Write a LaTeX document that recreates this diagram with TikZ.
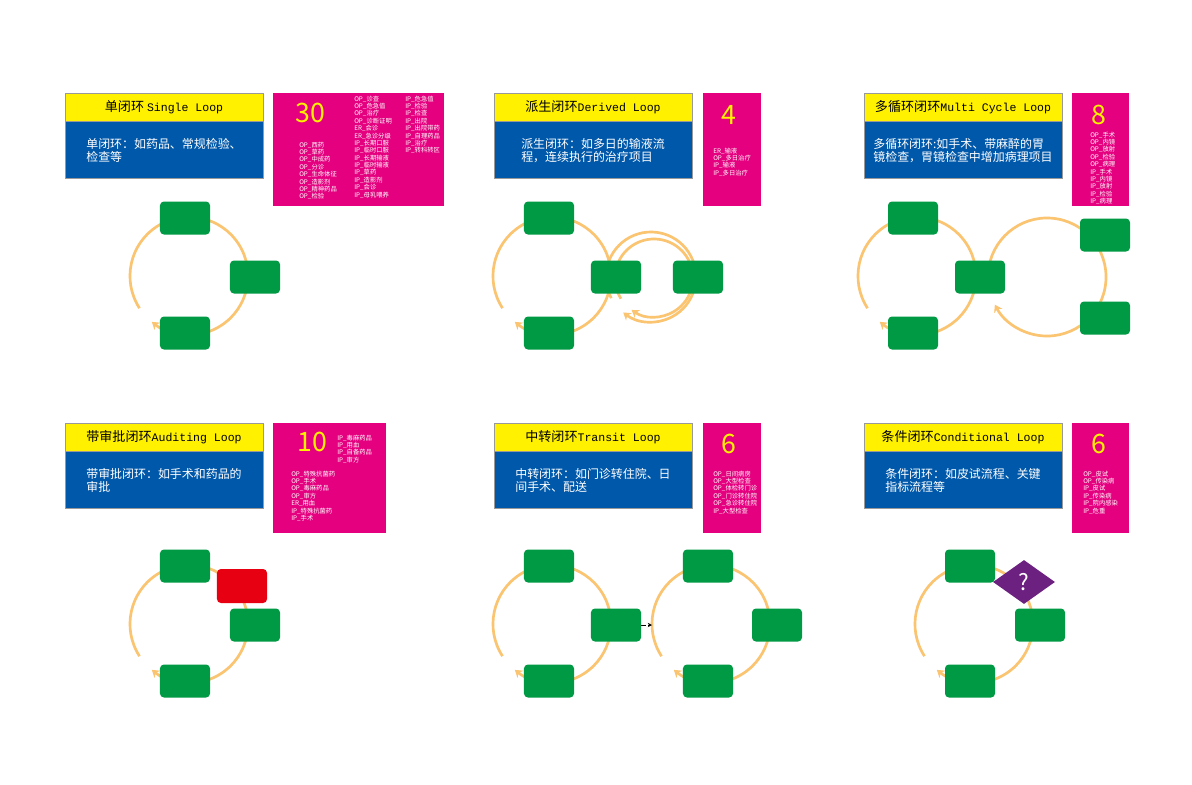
\documentclass[tikz,border=0pt]{standalone}
\usepackage{fontspec}
\setmainfont{Noto Sans CJK SC}
\newfontfamily\latmono{Liberation Mono}
\usepackage{tikz}
\usetikzlibrary{positioning,arrows.meta,shapes.geometric}

\definecolor{ttlyellow}{RGB}{255,241,0}
\definecolor{descblue}{RGB}{0,88,170}
\definecolor{cntmagenta}{RGB}{228,0,127}
\definecolor{stepgreen}{RGB}{0,153,68}
\definecolor{looporange}{RGB}{250,196,112}
\definecolor{rejectred}{RGB}{230,0,18}
\definecolor{condpurple}{RGB}{108,32,128}

\newcommand\lat[1]{{\latmono\fontsize{8.2pt}{10pt}\selectfont #1}}

\tikzset{
  titlebar/.style={fill=ttlyellow, draw=gray!80, line width=0.6pt, minimum width=4.95cm,
    minimum height=0.7cm, inner sep=0pt, font=\fontsize{9.3pt}{11pt}\selectfont},
  descbox/.style={fill=descblue, draw=gray!80, line width=0.6pt, minimum width=4.95cm,
    minimum height=1.425cm, inner sep=0pt, text=white, align=left,
    font=\fontsize{8.5pt}{9.6pt}\selectfont},
  countbox/.style={fill=cntmagenta, inner sep=0pt, anchor=north west},
  countnum/.style={text=ttlyellow, inner sep=0pt, font=\fontsize{19pt}{19pt}\selectfont},
  itemlist/.style={text=white, align=left, anchor=north west, inner sep=0pt,
    font=\fontsize{4.5pt}{5.25pt}\selectfont},
  stepbox/.style={fill=stepgreen, rounded corners=2.8pt, minimum width=1.25cm,
    minimum height=0.825cm, inner sep=0pt},
  looparc/.style={draw=looporange, line width=1.9pt,
    -{Stealth[length=5pt,width=6.5pt,inset=1.5pt]}},
}

\begin{document}
\begin{tikzpicture}[x=0.025cm,y=0.025cm]
\fill[white] (0,0) rectangle (1192,-784);
\useasboundingbox (0,0) rectangle (1192,-784);

% titles and descriptions
\node[titlebar] (ta) at (164,-107) {单闭环 \lat{Single Loop}};
\node[descbox, below=0pt of ta] (da) {单闭环：如药品、常规检验、\\检查等};
\node[titlebar] (tb) at (593,-107) {派生闭环\lat{Derived Loop}};
\node[descbox, below=0pt of tb] (db) {派生闭环：如多日的输液流\\程，连续执行的治疗项目};
\node[titlebar] (tc) at (963,-107) {多循环闭环\lat{Multi Cycle Loop}};
\node[descbox, below=0pt of tc] (dc) {多循环闭环:如手术、带麻醉的胃\\镜检查，胃镜检查中增加病理项目};
\node[titlebar] (td) at (164,-437) {带审批闭环\lat{Auditing Loop}};
\node[descbox, below=0pt of td] (dd) {带审批闭环：如手术和药品的\\审批};
\node[titlebar] (te) at (593,-437) {中转闭环\lat{Transit Loop}};
\node[descbox, below=0pt of te] (de) {中转闭环：如门诊转住院、日\\间手术、配送};
\node[titlebar] (tf) at (963,-437) {条件闭环\lat{Conditional Loop}};
\node[descbox, below=0pt of tf] (df) {条件闭环：如皮试流程、关键\\指标流程等};

% counts
\node[countbox, minimum width=4.275cm, minimum height=2.825cm] (na) at (273,-93) {};
\node[countnum] (ka) at (310,-113) {30};
\node[itemlist] (la1) at (299,-141.5) {OP\_西药\\OP\_草药\\OP\_中成药\\OP\_分诊\\OP\_生命体征\\OP\_造影剂\\OP\_精神药品\\OP\_检验};
\node[itemlist] (la2) at (354,-95.5) {OP\_诊查\\OP\_危急值\\OP\_治疗\\OP\_诊断证明\\ER\_会诊\\ER\_急诊分级\\IP\_长期口服\\IP\_临时口服\\IP\_长期输液\\IP\_临时输液\\IP\_草药\\IP\_造影剂\\IP\_会诊\\IP\_母乳喂养};
\node[itemlist] (la3) at (405,-95.5) {IP\_危急值\\IP\_检验\\IP\_检查\\IP\_出院\\IP\_出院带药\\IP\_自理药品\\IP\_治疗\\IP\_转科转区};

\node[countbox, minimum width=1.45cm, minimum height=2.825cm] (nb) at (703,-93) {};
\node[countnum] (kb) at (729,-115) {4};
\node[itemlist] (lb) at (713,-147.5) {ER\_输液\\OP\_多日治疗\\IP\_输液\\IP\_多日治疗};

\node[countbox, minimum width=1.425cm, minimum height=2.825cm] (nc) at (1072,-93) {};
\node[countnum] (kc) at (1099,-115) {8};
\node[itemlist] (lc) at (1090,-131.5) {OP\_手术\\OP\_内镜\\OP\_放射\\OP\_检验\\OP\_病理\\IP\_手术\\IP\_内镜\\IP\_放射\\IP\_检验\\IP\_病理};

\node[countbox, minimum width=2.825cm, minimum height=2.75cm] (nd) at (273,-423) {};
\node[countnum] (kd) at (312,-442) {10};
\node[itemlist] (ld1) at (337,-434.5) {IP\_毒麻药品\\IP\_用血\\IP\_自备药品\\IP\_审方};
\node[itemlist] (ld2) at (291,-470.5) {OP\_特殊抗菌药\\OP\_手术\\OP\_毒麻药品\\OP\_审方\\ER\_用血\\IP\_特殊抗菌药\\IP\_手术};

\node[countbox, minimum width=1.45cm, minimum height=2.75cm] (ne) at (703,-423) {};
\node[countnum] (ke) at (729,-444) {6};
\node[itemlist] (le) at (713,-470.5) {OP\_日间病房\\OP\_大型检查\\OP\_体检转门诊\\OP\_门诊转住院\\OP\_急诊转住院\\IP\_大型检查};

\node[countbox, minimum width=1.425cm, minimum height=2.75cm] (nf) at (1072,-423) {};
\node[countnum] (kf) at (1099,-444) {6};
\node[itemlist] (lf) at (1083,-470.5) {OP\_皮试\\OP\_传染病\\IP\_皮试\\IP\_传染病\\IP\_院内感染\\IP\_危重};

% loop centres
\coordinate (ca) at (189,-276);
\coordinate (cb) at (552,-276);
\coordinate (cb1) at (651,-277);
\coordinate (cb2) at (654,-278);
\coordinate (cc) at (917,-276);
\coordinate (cc1) at (1047,-277);
\coordinate (cd) at (189,-624);
\coordinate (ce) at (552,-624);
\coordinate (ce1) at (711,-624);
\coordinate (cf) at (974,-624);

% loops
\draw[looparc] (ca) ++(213:1.475cm) arc[start angle=213, end angle=-129, radius=1.475cm];
\draw[looparc] (cb) ++(213:1.475cm) arc[start angle=213, end angle=-129, radius=1.475cm];
\draw[looparc] (cb1) ++(208:1.125cm) arc[start angle=208, end angle=-128, radius=1.125cm];
\draw[looparc] (cb2) ++(212:0.975cm) arc[start angle=212, end angle=-125, radius=0.975cm];
\draw[looparc] (cc) ++(213:1.475cm) arc[start angle=213, end angle=-129, radius=1.475cm];
\draw[looparc] (cc1) ++(175:1.475cm) arc[start angle=175, end angle=-152, radius=1.475cm];
\draw[looparc] (cd) ++(213:1.475cm) arc[start angle=213, end angle=-129, radius=1.475cm];
\draw[looparc] (ce) ++(213:1.475cm) arc[start angle=213, end angle=-129, radius=1.475cm];
\draw[looparc] (ce1) ++(213:1.475cm) arc[start angle=213, end angle=-129, radius=1.475cm];
\draw[looparc] (cf) ++(213:1.475cm) arc[start angle=213, end angle=-129, radius=1.475cm];

% steps
\node[stepbox] (a1) at (185,-218) {};
\node[stepbox] (a2) at (255,-277) {};
\node[stepbox] (a3) at (185,-333) {};

\node[stepbox] (b1) at (549,-218) {};
\node[stepbox] (b2) at (616,-277) {};
\node[stepbox] (b3) at (549,-333) {};
\node[stepbox] (b4) at (698,-277) {};

\node[stepbox] (c1) at (913,-218) {};
\node[stepbox] (c2) at (980,-277) {};
\node[stepbox] (c3) at (913,-333) {};
\node[stepbox] (c4) at (1105,-235) {};
\node[stepbox] (c5) at (1105,-318) {};

\node[stepbox] (d1) at (185,-566) {};
\node[stepbox] (d2) at (255,-625) {};
\node[stepbox] (d3) at (185,-681) {};
\node[stepbox, fill=rejectred, minimum height=0.85cm] (d4) at (242,-586) {};

\node[stepbox] (e1) at (549,-566) {};
\node[stepbox] (e2) at (616,-625) {};
\node[stepbox] (e3) at (549,-681) {};
\node[stepbox] (e4) at (708,-566) {};
\node[stepbox] (e5) at (777,-625) {};
\node[stepbox] (e6) at (708,-681) {};
\coordinate (ein) at (652,-625);
\draw[densely dashed, line width=0.5pt, -{Stealth[length=3pt,width=3pt]}] (e2.east) -- (ein);

\node[stepbox] (f1) at (970,-566) {};
\node[stepbox] (f2) at (1040,-625) {};
\node[stepbox] (f3) at (970,-681) {};
\node[diamond, fill=condpurple, minimum width=1.55cm, minimum height=1.1cm, inner sep=0pt,
  aspect=1.4, text=white, font=\fontsize{16pt}{16pt}\selectfont] (f4) at (1024,-582) {?};
\end{tikzpicture}
\end{document}
